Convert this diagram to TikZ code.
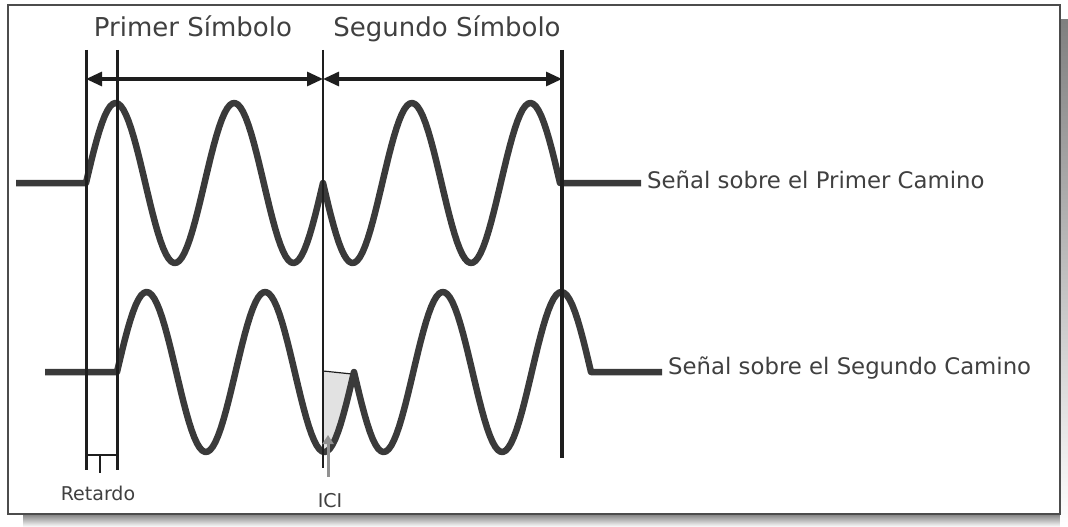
\documentclass[tikz,border=0pt]{standalone}
\usepackage{fontspec}
\setmainfont{DejaVu Sans}
\usetikzlibrary{arrows.meta}
\definecolor{ink}{RGB}{58,58,58}
\definecolor{rule}{RGB}{30,30,30}
\definecolor{txt}{RGB}{64,64,64}
\definecolor{shade}{RGB}{118,118,118}
\definecolor{icigray}{RGB}{226,226,226}
\definecolor{arrgray}{RGB}{145,145,145}
\tikzset{
  wave/.style={draw=ink,line width=6.5pt,line join=round},
  bound/.style={draw=rule,line width=3pt},
  dimarr/.style={{Triangle[length=16pt,width=14pt]}-{Triangle[length=16pt,width=14pt]},draw=rule,line width=3pt},
  title/.style={text=txt,inner sep=0pt,font=\fontsize{26}{30}\selectfont},
  sig/.style={text=txt,inner xsep=6pt,inner ysep=0pt,font=\fontsize{22.8}{26}\selectfont},
  small/.style={text=txt,inner sep=0pt,font=\fontsize{19}{22}\selectfont},
  iciarr/.style={-{Triangle[length=9pt,width=11pt]},draw=arrgray,line width=3pt}
}

\begin{document}
\begin{tikzpicture}[x=1pt,y=-1pt]
  \useasboundingbox (0,0) rectangle (1068,527);
  \fill[shade] (23,514) rectangle (1068,527);
  \fill[shade] (1060,20) rectangle (1068,527);
  \draw[draw=gray!60!black,line width=2pt,fill=white] (8,5) rectangle (1060,514);

  \foreach \n/\x/\yb in {a/86/470,b/117/470,c/323/468,d/562/458}{
    \coordinate (\n T) at (\x,50);
    \coordinate (\n B) at (\x,\yb);
    \coordinate (\n D) at (\x,79);
  }
  \coordinate (wA) at (16,183);
  \coordinate (endA) at (560,183);
  \coordinate (wB) at (45,372);
  \coordinate (endB) at (591,372);
  \coordinate (iciTip) at (328,435);

  \node[title,anchor=base] (symA) at (193,37) {Primer Símbolo};
  \node[title,anchor=base] (symB) at (447,37) {Segundo Símbolo};
  \node[sig,anchor=west] (lblA) at (641,180) {Señal sobre el Primer Camino};
  \node[sig,anchor=west] (lblB) at (662,368) {Señal sobre el Segundo Camino};
  \node[small,anchor=base] (ret) at (98,500) {Retardo};
  \node[small,anchor=base] (ici) at (330,507) {ICI};

  \fill[icigray] (323,372) -- (352,374) -- plot[domain=354:325,samples=30] (\x,{372-80*sin(((\x-117)/118.5)*360)}) -- (323,452) -- cycle;
  \draw[rule,line width=1.2pt] (323,371) -- (352,374);

  \draw[wave] (wA) -- (86,183)
    -- plot[domain=86:323,samples=90] (\x,{183-80*sin(((\x-86)/118.5)*360)})
    -- plot[domain=323:557,samples=90] (\x,{183+80*sin(((\x-323)/118.5)*360)})
    -- (endA) -- (endA -| lblA.west);
  \draw[wave] (wB) -- (117,372)
    -- plot[domain=117:354,samples=90] (\x,{372-80*sin(((\x-117)/118.5)*360)})
    -- plot[domain=354:591,samples=90] (\x,{372+80*sin(((\x-354)/118.5)*360)})
    -- (endB) -- (endB -| lblB.west);

  \draw[bound] (aT) -- (aB);
  \draw[bound] (bT) -- (bB);
  \draw[bound,line width=2.5pt] (cT) -- (cB);
  \draw[bound,line width=4.5pt] (dT) -- (dB);
  \draw[dimarr] (aD) -- (cD);
  \draw[dimarr] (cD) -- (dD);

  \draw[bound,line width=2.5pt] (86,455) -- (117,455);
  \draw[bound,line width=2.5pt] (100,455) -- (100,473);

  \draw[iciarr,shorten <=16pt] (iciTip |- ici.north) -- (iciTip);
\end{tikzpicture}
\end{document}
